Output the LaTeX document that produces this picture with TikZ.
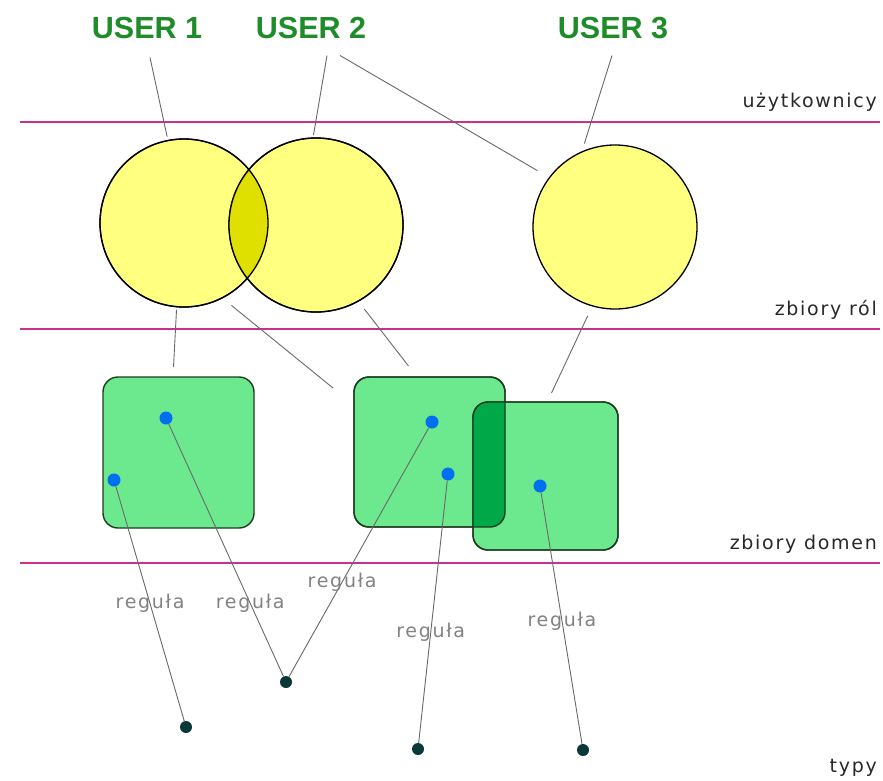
\documentclass[tikz,border=0pt]{standalone}
\usepackage{fontspec}
\newfontfamily\userfont{Liberation Sans}
\newfontfamily\lblfont[LetterSpace=9]{DejaVu Sans}
\usetikzlibrary{positioning}
\definecolor{usergreen}{RGB}{30,140,40}
\definecolor{levelpink}{RGB}{200,50,140}
\definecolor{lvltext}{RGB}{40,40,40}
\definecolor{rulegray}{RGB}{130,130,130}
\definecolor{linkgray}{RGB}{105,105,105}
\definecolor{roleyellow}{RGB}{255,255,128}
\definecolor{lensyellow}{RGB}{224,224,0}
\definecolor{domgreen}{RGB}{108,232,142}
\definecolor{overlapgreen}{RGB}{0,168,72}
\definecolor{domborder}{RGB}{30,60,30}
\definecolor{elemblue}{RGB}{0,112,240}
\definecolor{typdark}{RGB}{10,55,55}

\begin{document}
\begin{tikzpicture}[
    x=1pt, y=-1pt,
    user/.style={font=\userfont\bfseries\fontsize{30.5}{36}\selectfont, text=usergreen, inner sep=0pt, anchor=base},
    level/.style={draw=levelpink, line width=1.6pt},
    lvllabel/.style={font=\lblfont\fontsize{19}{23}\selectfont, text=lvltext, inner sep=0pt, anchor=base east},
    roleset/.style={circle, draw=black, fill=roleyellow, line width=1.3pt, inner sep=0pt, outer sep=0pt},
    domset/.style={rectangle, rounded corners=15pt, draw=domborder, fill=domgreen, line width=1.4pt, inner sep=0pt, outer sep=0pt},
    elem/.style={circle, fill=elemblue, inner sep=0pt, minimum size=13pt},
    typ/.style={circle, fill=typdark, inner sep=0pt, minimum size=12pt},
    assign/.style={draw=linkgray, line width=0.9pt},
    ruleline/.style={draw=linkgray, line width=0.9pt},
    rulelabel/.style={font=\lblfont\fontsize{19}{23}\selectfont, text=rulegray, inner sep=0pt}
]
\fill[white] (0,0) rectangle (883,781);
\useasboundingbox (0,0) rectangle (883,781);

\draw[level] (20,122) -- (880,122);
\draw[level] (20,329) -- (880,329);
\draw[level] (20,563) -- (880,563);
\node[lvllabel] (lusers) at (877,108) {użytkownicy};
\node[lvllabel] (lroles) at (877,315) {zbiory ról};
\node[lvllabel] (ldoms) at (877,549) {zbiory domen};
\node[lvllabel] (ltypes) at (877,772) {typy};

\node[user] (u1) at (147,39) {USER 1};
\node[user] (u2) at (311,39) {USER 2};
\node[user] (u3) at (613,39) {USER 3};

\node[roleset, minimum size=168pt] (c1) at (184,223) {};
\node[roleset, minimum size=174pt] (c2) at (316,225) {};
\node[roleset, minimum size=164pt] (c3) at (615,227) {};
\begin{scope}
  \clip (c1.center) circle[radius=84pt];
  \fill[lensyellow] (c2.center) circle[radius=87pt];
\end{scope}
\draw[line width=1.3pt] (c1.center) circle[radius=84pt] (c2.center) circle[radius=87pt];

\node[domset, minimum width=151pt, minimum height=151pt] (s1) at (178.5,452.5) {};
\node[domset, minimum width=151pt, minimum height=150pt] (s2) at (429.5,452) {};
\node[domset, minimum width=145pt, minimum height=148pt] (s3) at (545.5,476) {};
\begin{scope}
  \clip[rounded corners=15pt] (s3.south west) rectangle (s3.north east);
  \fill[overlapgreen, rounded corners=15pt] (s2.south west) rectangle (s2.north east);
\end{scope}
\draw[domborder, line width=1.4pt, rounded corners=15pt] (s2.south west) rectangle (s2.north east) (s3.south west) rectangle (s3.north east);

\draw[assign, shorten >=4pt] ([xshift=3pt,yshift=-18pt]u1.south) -- (c1.101);
\draw[assign, shorten >=3pt] ([xshift=16pt,yshift=-16pt]u2.south) -- (c2.92);
\draw[assign, shorten >=14pt] ([xshift=29pt,yshift=-16pt]u2.south) -- (c3.143);
\draw[assign, shorten >=9pt] ([xshift=-1pt,yshift=-16pt]u3.south) -- (c3.114);
\draw[assign, shorten <=3pt] (c1.265) -- ([xshift=-5pt,yshift=10pt]s1.north);
\draw[assign, shorten <=12pt] (c1.297) -- ([xshift=-21pt,yshift=-11pt]s2.north west);
\draw[assign, shorten <=10pt] (c2.299) -- ([xshift=-21pt,yshift=11pt]s2.north);
\draw[assign, shorten <=11pt] (c3.254) -- ([xshift=6pt,yshift=9pt]s3.north);

\node[elem] (p1) at (114,480) {};
\node[elem] (p2) at (166,418) {};
\node[elem] (p3) at (432,422) {};
\node[elem] (p4) at (448,474) {};
\node[elem] (p5) at (540,486) {};
\node[typ] (t1) at (186,727) {};
\node[typ] (t2) at (286,682) {};
\node[typ] (t3) at (418,749) {};
\node[typ] (t4) at (583,750) {};

\draw[ruleline] (p1) -- node[rulelabel, pos=.5] {reguła} (t1);
\draw[ruleline] (p2) -- node[rulelabel, pos=.71] {reguła} (t2);
\draw[ruleline] (p3) -- node[rulelabel, pos=.62] {reguła} (t2);
\draw[ruleline] (p4) -- node[rulelabel, pos=.58] {reguła} (t3);
\draw[ruleline] (p5) -- node[rulelabel, pos=.51] {reguła} (t4);
\end{tikzpicture}
\end{document}
